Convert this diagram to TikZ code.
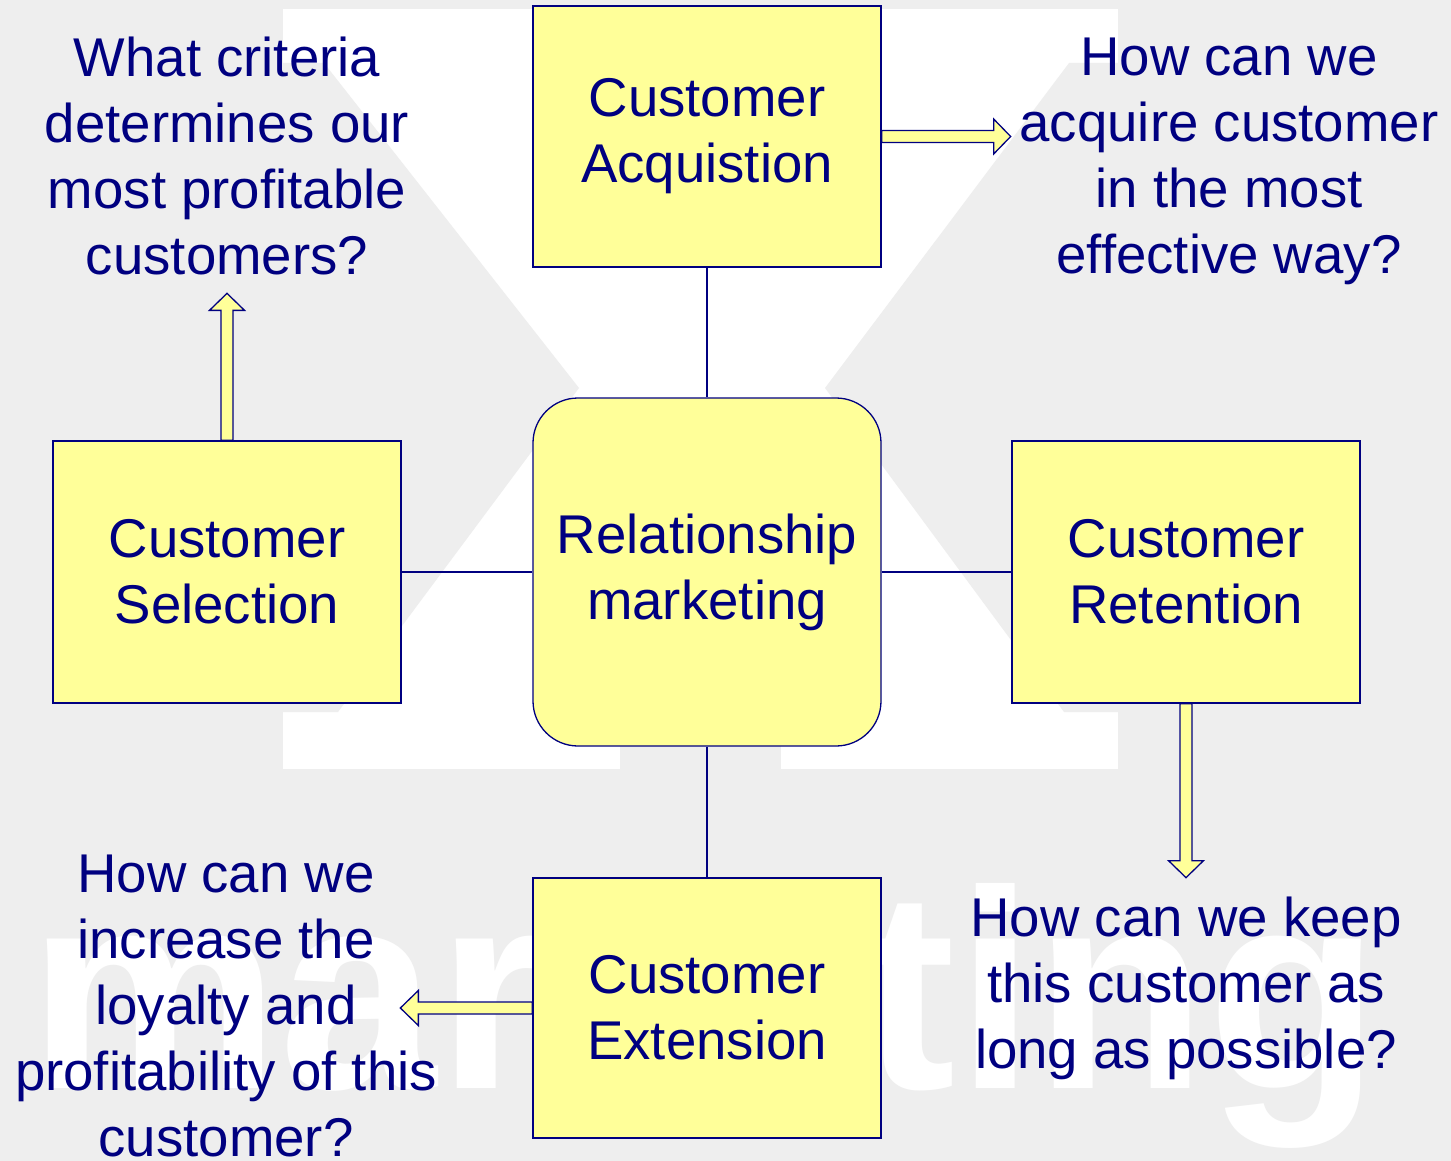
\documentclass[tikz,border=0pt]{standalone}
\usepackage{fontspec}
\setmainfont{Liberation Sans}
\usetikzlibrary{calc}
\definecolor{navyc}{RGB}{0,0,128}
\definecolor{boxyel}{RGB}{255,255,153}
\definecolor{bggray}{RGB}{238,238,238}
\newcommand{\fr}{\rule{0pt}{45pt}}
\begin{document}
\begin{tikzpicture}[x=1pt,y=-1pt,
 txt/.style={font=\fontsize{54.6}{66}\selectfont, text=navyc, align=center},
 box/.style={txt, draw=navyc, line width=1.3pt, fill=boxyel, minimum width=348pt, inner sep=0pt},
 conn/.style={draw=navyc, line width=1.8pt},
 barrow/.style={draw=navyc, line width=1.3pt, fill=boxyel, line join=miter},
 question/.style={txt, inner sep=0pt, anchor=north}]
\useasboundingbox (0,0) rectangle (1451,1161);
\clip (0,0) rectangle (1451,1161);
\fill[bggray] (0,0) rectangle (1451,1161);
% watermark X
\fill[white] (283,9) rectangle (1118,769);
\fill[bggray] (283,63) -- (324,63) -- (579,388) -- (338,712) -- (283,712) -- cycle;
\fill[bggray] (1118,63) -- (1069,63) -- (825,388) -- (1064,712) -- (1118,712) -- cycle;
\fill[bggray] (620,700) rectangle (781,780);
% watermark text
\node[anchor=base west, inner sep=0pt, text=white, font=\fontsize{283}{300}\selectfont\bfseries] (wm) at (28,1088) {marketing};
% boxes
\node[box, minimum height=261pt] (acq) at (707,136.5) {Customer\\Acquistion};
\node[box, minimum height=348pt, rounded corners=45pt] (rel) at (707,572) {Relationship\\marketing};
\node[box, minimum height=262pt] (sel) at (227,572) {Customer\\Selection};
\node[box, minimum height=262pt] (ret) at (1186,572) {Customer\\Retention};
\node[box, minimum height=260pt] (ext) at (707,1008) {Customer\\Extension};
% connectors
\draw[conn] (acq.south) -- (rel.north);
\draw[conn] (sel.east) -- (rel.west);
\draw[conn] (rel.east) -- (ret.west);
\draw[conn] (rel.south) -- (ext.north);
% questions
\node[question] (qsel) at (227,31) {\fr What criteria\\determines our\\most profitable\\customers?};
\node[question] (qacq) at (1229,30) {\fr How can we\\acquire customer\\in the most\\effective way?};
\node[question] (qret) at (1186,891) {\fr How can we keep\\this customer as\\long as possible?};
\node[question] (qext) at (226,847) {\fr How can we\\increase the\\loyalty and\\profitability of this\\customer?};
% arrow tips
\coordinate (tA) at ($(acq.east)+(129,0)$);
\coordinate (tS) at ($(sel.north)+(0,-147)$);
\coordinate (tR) at ($(ret.south)+(0,174)$);
\coordinate (tE) at ($(ext.west)+(-132,0)$);
% block arrows
\draw[barrow] ($(acq.east)+(0,-6)$) -- ($(tA)+(-17,-6)$) -- ($(tA)+(-17,-17.5)$) -- (tA) -- ($(tA)+(-17,17.5)$) -- ($(tA)+(-17,6)$) -- ($(acq.east)+(0,6)$) -- cycle;
\draw[barrow] ($(sel.north)+(-6,0)$) -- ($(tS)+(-6,17)$) -- ($(tS)+(-17.5,17)$) -- (tS) -- ($(tS)+(17.5,17)$) -- ($(tS)+(6,17)$) -- ($(sel.north)+(6,0)$) -- cycle;
\draw[barrow] ($(ret.south)+(-6,0)$) -- ($(tR)+(-6,-17)$) -- ($(tR)+(-17.5,-17)$) -- (tR) -- ($(tR)+(17.5,-17)$) -- ($(tR)+(6,-17)$) -- ($(ret.south)+(6,0)$) -- cycle;
\draw[barrow] ($(ext.west)+(0,-6)$) -- ($(tE)+(18,-6)$) -- ($(tE)+(18,-17.5)$) -- (tE) -- ($(tE)+(18,17.5)$) -- ($(tE)+(18,6)$) -- ($(ext.west)+(0,6)$) -- cycle;
\end{tikzpicture}
\end{document}
